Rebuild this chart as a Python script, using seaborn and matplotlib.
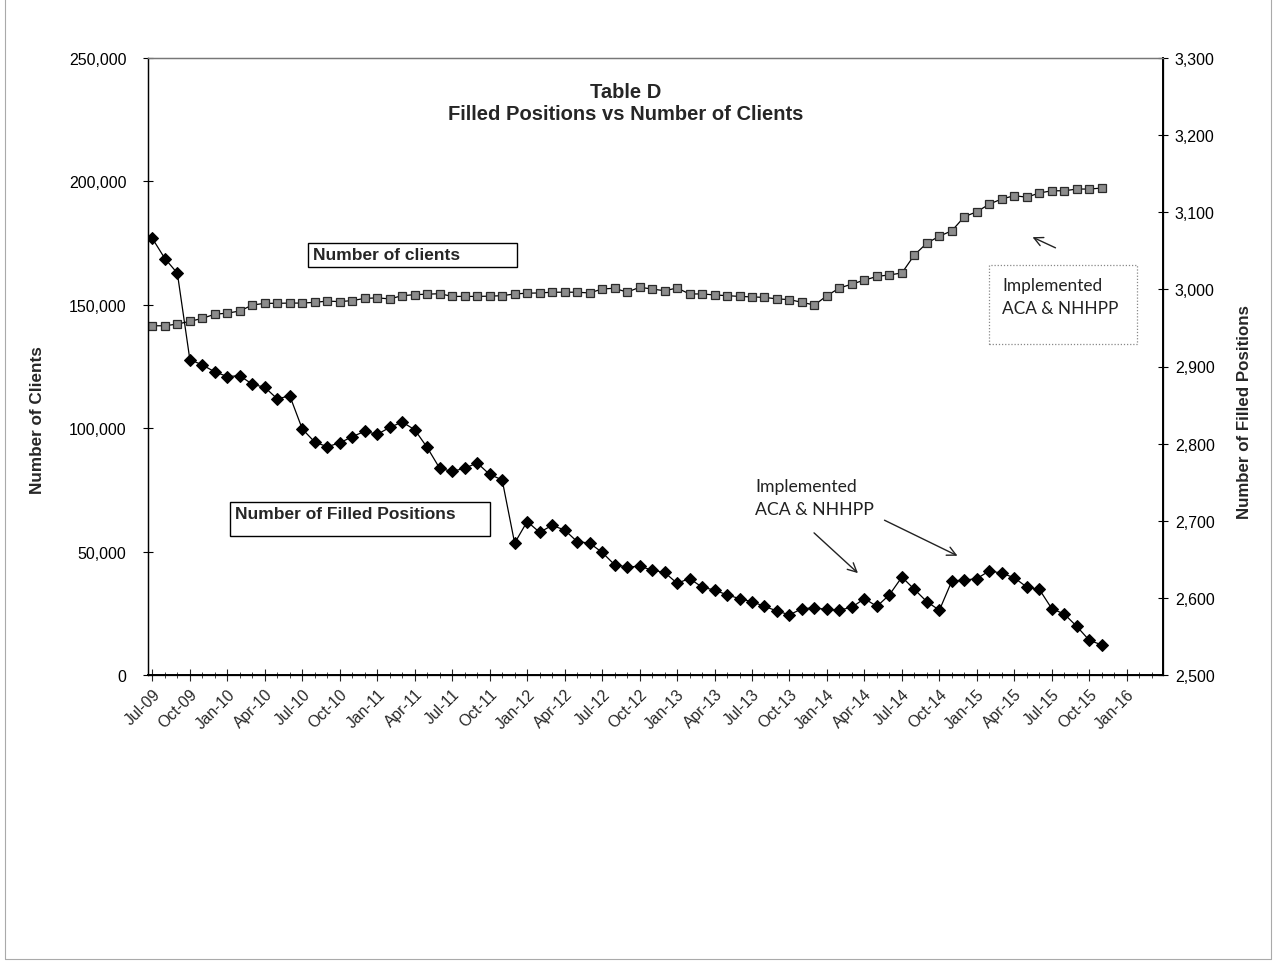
import matplotlib
matplotlib.use("Agg")
import matplotlib.pyplot as plt
from matplotlib.patches import Rectangle
from matplotlib.lines import Line2D
from matplotlib.ticker import FuncFormatter
import seaborn as sns
import pandas as pd

# monthly values, Jul-09 .. Nov-15
clients = [
    141500, 141500, 142200, 143300, 144500, 146200, 146600, 147500, 149900, 150600,
    150600, 150700, 150700, 151000, 151500, 151300, 151700, 152600, 152800, 152400,
    153700, 154100, 154300, 154500, 153400, 153400, 153400, 153500, 153700, 154400,
    154700, 154800, 155100, 155100, 155100, 154800, 156400, 156700, 155100, 157100,
    156400, 155700, 156800, 154400, 154400, 154000, 153700, 153400, 153200, 153000,
    152400, 152100, 151000, 149900, 153700, 156800, 158400, 160000, 161500, 162100,
    162900, 170200, 175000, 177800, 180000, 185700, 187700, 190800, 192900, 194200,
    193600, 195300, 196200, 196200, 196900, 196900, 197300,
]
filled_positions = [
    3066, 3040, 3021, 2909, 2902, 2893, 2887, 2888, 2877, 2873,
    2858, 2862, 2819, 2802, 2796, 2801, 2809, 2816, 2812, 2821,
    2828, 2818, 2795, 2768, 2764, 2768, 2775, 2760, 2753, 2671,
    2699, 2685, 2694, 2688, 2673, 2671, 2659, 2643, 2640, 2641,
    2636, 2633, 2619, 2625, 2614, 2610, 2604, 2599, 2595, 2589,
    2583, 2578, 2586, 2587, 2585, 2584, 2588, 2599, 2589, 2604,
    2627, 2611, 2595, 2584, 2622, 2623, 2625, 2635, 2632, 2626,
    2614, 2611, 2586, 2579, 2563, 2545, 2539,
]
tick_labels = [
    "Jul-09", "Oct-09", "Jan-10", "Apr-10", "Jul-10", "Oct-10", "Jan-11", "Apr-11",
    "Jul-11", "Oct-11", "Jan-12", "Apr-12", "Jul-12", "Oct-12", "Jan-13", "Apr-13",
    "Jul-13", "Oct-13", "Jan-14", "Apr-14", "Jul-14", "Oct-14", "Jan-15", "Apr-15",
    "Jul-15", "Oct-15", "Jan-16",
]

df = pd.DataFrame({"month": range(len(clients)), "clients": clients,
                   "filled": filled_positions})

sns.set_style("white")
plt.rcParams["font.family"] = ["Liberation Sans", "DejaVu Sans"]

W, H = 1275, 962
fig = plt.figure(figsize=(W / 100, H / 100), dpi=100)
ax = fig.add_axes([148 / W, 1 - 676 / H, (1163 - 148) / W, (676 - 59) / H])
ax2 = ax.twinx()

sns.lineplot(data=df, x="month", y="clients", ax=ax, color="black", lw=0.9,
             marker="s", markersize=5.5, markerfacecolor="#8c8c8c",
             markeredgecolor="#2a2a2a", markeredgewidth=0.9)
sns.lineplot(data=df, x="month", y="filled", ax=ax2, color="black", lw=0.9,
             marker="D", markersize=5.8, markerfacecolor="black",
             markeredgecolor="black")

ax.set_xlim(-0.35, 80.9)
ax.set_ylim(0, 250000)
ax2.set_ylim(2500, 3300)

ax.set_yticks(range(0, 250001, 50000))
ax.yaxis.set_major_formatter(FuncFormatter(lambda v, p: f"{v:,.0f}"))
ax2.set_yticks(range(2500, 3301, 100))
ax2.yaxis.set_major_formatter(FuncFormatter(lambda v, p: f"{v:,.0f}"))
ax.set_xticks(range(0, 3 * len(tick_labels), 3))
ax.set_xticks(range(0, 81), minor=True)
ax.set_xticklabels(tick_labels, rotation=45, ha="right", rotation_mode="anchor")

ax.tick_params(axis="y", direction="inout", length=7, width=0.8, pad=12,
               labelsize=11.5, colors="black", left=True)
ax2.tick_params(axis="y", direction="inout", length=7, width=0.8, pad=5,
                labelsize=11.5, colors="black", right=True)
ax.tick_params(axis="x", which="major", direction="inout", length=8, width=0.8,
               pad=4, labelsize=11.3, bottom=True)
ax.tick_params(axis="x", which="minor", direction="inout", length=4, width=0.6,
               bottom=True)

for a in (ax, ax2):
    for s in a.spines.values():
        s.set_color("black")
        s.set_linewidth(0.9)
ax2.spines["right"].set_linewidth(1.4)
ax.spines["bottom"].set_linewidth(1.4)
ax.spines["top"].set_color("#777777")
ax2.spines["top"].set_color("#777777")

ax.set_xlabel("")
ax.set_ylabel("Number of Clients", fontsize=12.3, fontweight="bold")
ax.yaxis.set_label_coords(-0.101, 0.415)
ax2.set_ylabel("Number of Filled Positions", fontsize=12.2, fontweight="bold")
ax2.yaxis.set_label_coords(1.073, 0.428)


def fx(x):
    return x / W


def fy(y):
    return 1 - y / H


fig.text(fx(626), fy(92), "Table D", ha="center", va="center",
         fontsize=14.5, fontweight="bold")
fig.text(fx(626), fy(115), "Filled Positions vs Number of Clients",
         ha="center", va="center", fontsize=14.5, fontweight="bold")


def box(x0, y0, x1, y1, **kw):
    fig.add_artist(Rectangle((fx(x0), fy(y1)), (x1 - x0) / W, (y1 - y0) / H,
                             transform=fig.transFigure, facecolor="white", **kw))


box(308, 244, 517, 268, edgecolor="black", linewidth=1)
fig.text(fx(313), fy(256), "Number of clients", ha="left", va="center",
         fontsize=12.5, fontweight="bold")
box(230, 503, 490, 537, edgecolor="black", linewidth=1)
fig.text(fx(235), fy(515), "Number of Filled Positions", ha="left", va="center",
         fontsize=12.5, fontweight="bold")

note_font = ["Lato", "DejaVu Sans"]
box(989, 266, 1137, 345, edgecolor="#888888", linewidth=0.9, linestyle=(0, (1, 1.5)))
fig.text(fx(1002), fy(286), "Implemented", ha="left", va="center",
         fontsize=12.4, family=note_font, color="#222222")
fig.text(fx(1002), fy(309), "ACA & NHHPP", ha="left", va="center",
         fontsize=12.4, family=note_font, color="#222222")
fig.text(fx(755), fy(487), "Implemented", ha="left", va="center",
         fontsize=12.7, family=note_font, color="#222222")
fig.text(fx(755), fy(510), "ACA & NHHPP", ha="left", va="center",
         fontsize=12.7, family=note_font, color="#222222")

arrow = dict(arrowstyle="->", lw=1, color="#222222", mutation_scale=16)
for (x0, y0), (x1, y1) in [((1058, 250), (1030, 237)),
                           ((812, 532), (860, 576)),
                           ((882, 520), (960, 558))]:
    ax.annotate("", xy=(x1, H - y1), xytext=(x0, H - y0),
                xycoords="figure pixels", textcoords="figure pixels",
                arrowprops=arrow)

# faint outer frame of the scanned chart
for xs, ys in [([5, 5], [0, 960]), ([1271, 1271], [0, 960]), ([5, 1271], [960, 960])]:
    fig.add_artist(Line2D([fx(v) for v in xs], [fy(v) for v in ys],
                          transform=fig.transFigure, color="#aaaaaa", lw=0.8))

fig.savefig("out.png", dpi=100)
